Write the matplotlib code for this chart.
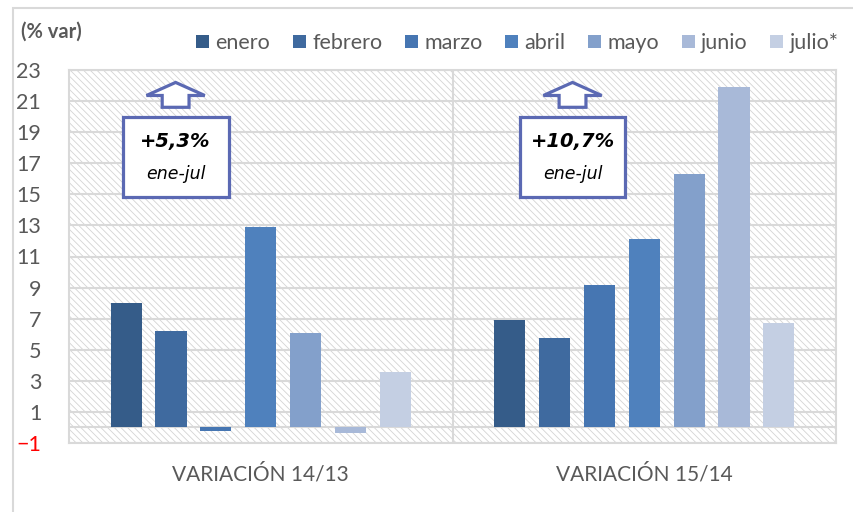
import numpy as np
import matplotlib.pyplot as plt
from matplotlib.patches import Patch, Rectangle, Polygon

# datos
groups = ["VARIACIÓN 14/13", "VARIACIÓN 15/14"]
months = ["enero", "febrero", "marzo", "abril", "mayo", "junio", "julio*"]
var_1413 = [8.0, 6.2, -0.2, 12.9, 6.1, -0.35, 3.55]
var_1514 = [6.9, 5.75, 9.15, 12.1, 16.3, 21.9, 6.7]
totals = ["+5,3%", "+10,7%"]
period = "ene-jul"
yticks = list(range(-1, 24, 2))

COLORS = ["#355C89", "#3F6A9F", "#4676B2", "#4F81BD", "#83A0CB", "#A8B9D8", "#C4CFE3"]
GRID = "#D9D9D9"
TXT = "#595959"
BOX = "#5B69B3"

plt.rcParams["font.family"] = ["Lato", "DejaVu Sans"]
plt.rcParams["hatch.linewidth"] = 0.6

fig = plt.figure(figsize=(8.54, 5.12), dpi=100)
ax = fig.add_axes([69/854, 1-443/512, (836-69)/854, (443-70)/512])

# fondo rayado
bg = Rectangle((0, 0), 1, 1, transform=ax.transAxes, facecolor="white",
               edgecolor="#D4D4D4", hatch="\\\\\\\\\\", lw=0, zorder=0)
ax.add_patch(bg)

step, width = 0.117, 0.081
data = np.array([var_1413, var_1514])
for i, m in enumerate(months):
    xs = np.arange(len(groups)) + (i - 3) * step
    ax.bar(xs, data[:, i], width=width, color=COLORS[i], zorder=3)

ax.set_xlim(-0.5, 1.5)
ax.set_ylim(-1, 23)
ax.set_yticks(yticks)
ax.set_xticks(range(len(groups)))
ax.set_xticklabels(groups, fontsize=15, color=TXT)
ax.tick_params(axis="x", length=0, pad=15)
ax.tick_params(axis="y", length=0, pad=20, labelsize=15.5, labelcolor=TXT)
for lab in ax.get_yticklabels():
    if lab.get_text().startswith("-") or lab.get_text().startswith("\u2212"):
        lab.set_color("red")
ax.yaxis.grid(True, color=GRID, lw=1.5, zorder=1)
ax.set_axisbelow(True)
ax.axhline(0, color=GRID, lw=1.5, zorder=2)
ax.axvline(0.5, color=GRID, lw=1.5, zorder=2)
for sp in ax.spines.values():
    sp.set_color(GRID)
    sp.set_linewidth(1.5)

# cuadros de total ene-jul con flecha
box_x = [-0.222, 0.813]
for bx, tot in zip(box_x, totals):
    ax.add_patch(Rectangle((bx - 0.138, 14.86), 0.276, 5.1, facecolor="white",
                           edgecolor=BOX, lw=2.3, zorder=5))
    ax.text(bx, 18.4, tot, ha="center", va="center", fontsize=14,
            fontweight="bold", fontstyle="italic", family="DejaVu Sans", zorder=6)
    ax.text(bx, 16.3, period, ha="center", va="center", fontsize=12.5,
            fontstyle="italic", family="DejaVu Sans", zorder=6)
    arrow = [(bx, 22.2), (bx + 0.076, 21.36), (bx + 0.035, 21.36), (bx + 0.035, 20.6),
             (bx - 0.035, 20.6), (bx - 0.035, 21.36), (bx - 0.076, 21.36)]
    ax.add_patch(Polygon(arrow, closed=True, facecolor="white", edgecolor=BOX,
                         lw=2.3, zorder=5))

fig.text(21/854, 1-32/512, "(% var)", fontsize=14.5, fontweight="bold",
         color=TXT, va="center", ha="left")

handles = [Patch(facecolor=c) for c in COLORS]
fig.legend(handles, months, loc="center", bbox_to_anchor=(0.606, 1-43/512),
           ncol=7, frameon=False, fontsize=15.5, labelcolor=TXT,
           handlelength=0.6, handleheight=0.6, handletextpad=0.3,
           columnspacing=1.05)

# borde del gráfico
fig.add_artist(Rectangle((13/854, -0.1), 1.2, 1.1 - 8/512,
                         transform=fig.transFigure, fill=False,
                         edgecolor=GRID, lw=1.5))

fig.savefig("out.png", dpi=100)
